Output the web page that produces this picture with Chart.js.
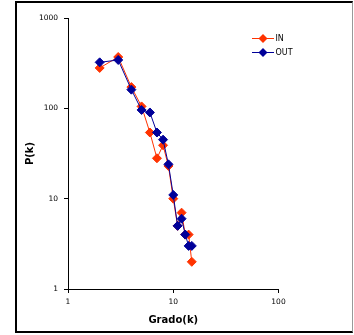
<!DOCTYPE html>
<html>
<head>
<meta charset="utf-8">
<script src="https://cdn.jsdelivr.net/npm/chart.js@4/dist/chart.umd.min.js"></script>
<style>
  body { margin: 0; background: #fff; }
  #wrap { position: relative; width: 354px; height: 335px; }
  #frame {
    position: absolute; left: 15px; top: 1px; width: 338px; height: 332px;
    box-sizing: border-box;
    border-left: 2px solid #000; border-top: 2px solid #000;
    border-bottom: 2px solid #000; border-right: 1px solid #999;
    pointer-events: none;
  }
  canvas { position: absolute; left: 0; top: 0; }
</style>
</head>
<body>
<div id="wrap">
  <canvas id="myChart" width="354" height="335"></canvas>
  <div id="frame"></div>
</div>
<script>
// Degree k
const grado = [2, 3, 4, 5, 6, 7, 8, 9, 10, 11, 12, 13, 14, 15];
// P(k) for incoming and outgoing degree
const pIn  = [280, 370, 172, 105, 54, 28, 39, 23, 10, 5, 7, 4, 4, 2];
const pOut = [323, 343, 161, 96, 90, 54, 45, 24, 11, 5, 6, 4, 3, 3];
// tick labels
const xTicks = [1, 10, 100];
const yTicks = [1, 10, 100, 1000];

const RED = '#FF3300';
const BLUE = '#000099';
const FONT = 'DejaVu Sans, Verdana, sans-serif';

const toPoints = (ys) => grado.map((k, i) => ({ x: k, y: ys[i] }));

// legend drawn inside the plot, like the Excel one
const insideLegend = {
    id: 'insideLegend',
    afterDraw(chart) {
        const ctx = chart.ctx;
        const items = [
            { label: 'IN', color: RED, y: 38.5 },
            { label: 'OUT', color: BLUE, y: 52.5 },
        ];
        ctx.save();
        items.forEach((it) => {
            ctx.strokeStyle = it.color;
            ctx.fillStyle = it.color;
            ctx.lineWidth = 1;
            ctx.beginPath();
            ctx.moveTo(252, it.y);
            ctx.lineTo(274, it.y);
            ctx.stroke();
            ctx.beginPath();
            ctx.moveTo(263, it.y - 4.5);
            ctx.lineTo(267.5, it.y);
            ctx.lineTo(263, it.y + 4.5);
            ctx.lineTo(258.5, it.y);
            ctx.closePath();
            ctx.fill();
            ctx.fillStyle = '#000';
            ctx.font = '8px ' + FONT;
            ctx.textBaseline = 'middle';
            ctx.fillText(it.label, 275.5, it.y);
        });
        ctx.restore();
    },
};

const data = {
    datasets: [
        {
            label: 'IN',
            data: toPoints(pIn),
            borderColor: RED,
            backgroundColor: RED,
            order: 2,
        },
        {
            label: 'OUT',
            data: toPoints(pOut),
            borderColor: BLUE,
            backgroundColor: BLUE,
            order: 1,
        },
    ],
};

const config = {
    type: 'line',
    data: data,
    plugins: [insideLegend],
    options: {
        responsive: false,
        animation: false,
        layout: { padding: { left: 0, right: 75.5, top: 18, bottom: 0 } },
        elements: {
            line: { borderWidth: 1, tension: 0 },
            point: { pointStyle: 'rectRot', radius: 4.5, borderWidth: 1 },
        },
        plugins: {
            legend: { display: false },
            tooltip: { enabled: false },
        },
        scales: {
            x: {
                type: 'logarithmic',
                min: 1,
                max: 100,
                afterBuildTicks: (scale) => { scale.ticks = xTicks.map((v) => ({ value: v })); },
                afterFit: (scale) => { scale.height = 46; },
                border: { color: '#000', width: 1 },
                grid: { drawOnChartArea: false, drawTicks: true, tickLength: 4, color: '#000' },
                ticks: {
                    color: '#000',
                    font: { family: FONT, size: 7.5 },
                    padding: 5,
                    maxRotation: 0,
                    callback: (v) => String(v),
                },
                title: {
                    display: true,
                    text: 'Grado(k)',
                    color: '#000',
                    font: { family: FONT, size: 10, weight: 'bold' },
                    padding: { top: 0, bottom: 9 },
                },
            },
            y: {
                type: 'logarithmic',
                min: 1,
                max: 1000,
                afterBuildTicks: (scale) => { scale.ticks = yTicks.map((v) => ({ value: v })); },
                afterFit: (scale) => { scale.width = 68; },
                border: { color: '#000', width: 1 },
                grid: { drawOnChartArea: false, drawTicks: true, tickLength: 4, color: '#000' },
                ticks: {
                    color: '#000',
                    font: { family: FONT, size: 7.5 },
                    padding: 6,
                    callback: (v) => String(v),
                },
                title: {
                    display: true,
                    text: 'P(k)',
                    color: '#000',
                    font: { family: FONT, size: 10, weight: 'bold' },
                    padding: { top: 24, bottom: 0 },
                },
            },
        },
    },
};

const myChart = new Chart(document.getElementById('myChart'), config);
</script>
</body>
</html>
